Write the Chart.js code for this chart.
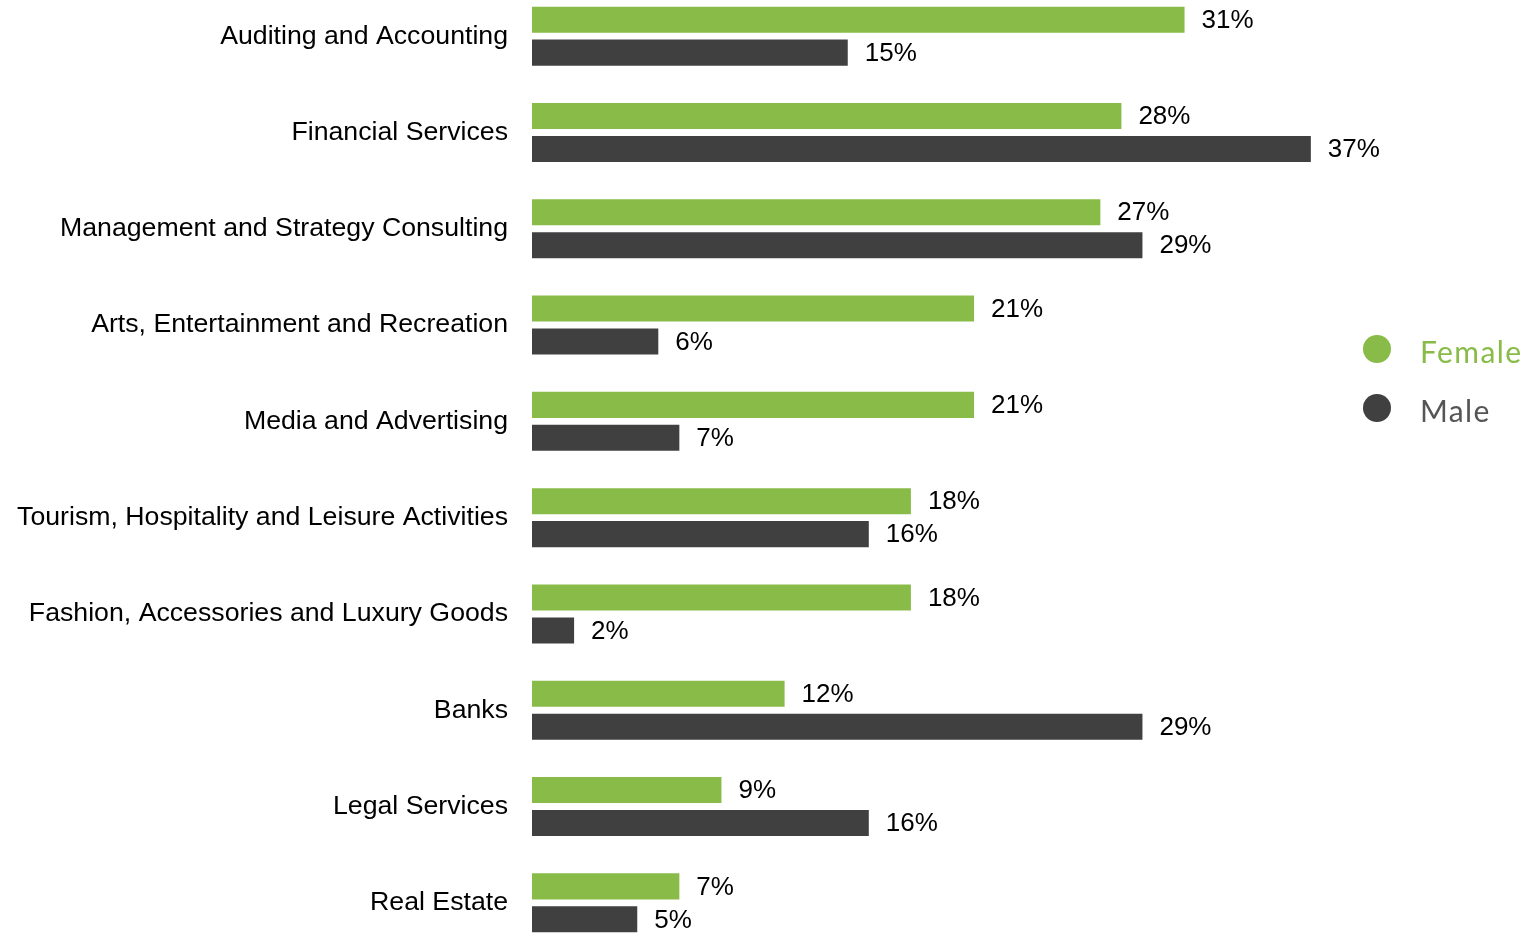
<!DOCTYPE html>
<html>
<head>
<meta charset="utf-8">
<script src="https://cdn.jsdelivr.net/npm/chart.js@4.4.1/dist/chart.umd.min.js"></script>
<style>
  html, body { margin: 0; padding: 0; background: #fff; }
  #wrap { position: relative; width: 1532px; height: 934px; overflow: hidden; }
  #box { position: absolute; left: 0; top: -12px; width: 1532px; height: 963px; }
  .legend { position: absolute; left: 1363px; font-family: Lato, 'Open Sans', sans-serif; font-size: 30px; letter-spacing: 1.4px; }
  .legend span.dot { position: absolute; left: 0; width: 28px; height: 28px; border-radius: 50%; }
  .legend span.txt { position: absolute; left: 57px; white-space: nowrap; }
</style>
</head>
<body>
<div id="wrap">
  <div id="box"><canvas id="myChart"></canvas></div>
  <div class="legend" style="top:335px">
    <span class="dot" style="background:#88bb47"></span>
    <span class="txt" style="color:#88bb47;top:-2px">Female</span>
  </div>
  <div class="legend" style="top:394px">
    <span class="dot" style="background:#404040"></span>
    <span class="txt" style="color:#555;top:-2px">Male</span>
  </div>
</div>
<script>
const categories = [
  'Auditing and Accounting',
  'Financial Services',
  'Management and Strategy Consulting',
  'Arts, Entertainment and Recreation',
  'Media and Advertising',
  'Tourism, Hospitality and Leisure Activities',
  'Fashion, Accessories and Luxury Goods',
  'Banks',
  'Legal Services',
  'Real Estate',
];
const female = [31, 28, 27, 21, 21, 18, 18, 12, 9, 7];
const male = [15, 37, 29, 6, 7, 16, 2, 29, 16, 5];

const fontFamily = '"Liberation Sans", Arial, sans-serif';

// percent labels at the end of each bar
const valueLabels = {
  id: 'valueLabels',
  afterDatasetsDraw(chart) {
    const { ctx } = chart;
    ctx.save();
    ctx.font = `26px ${fontFamily}`;
    ctx.fillStyle = '#000';
    ctx.textAlign = 'left';
    ctx.textBaseline = 'middle';
    chart.data.datasets.forEach((ds, i) => {
      const meta = chart.getDatasetMeta(i);
      meta.data.forEach((bar, j) => {
        ctx.fillText(`${ds.data[j]}%`, bar.x + 17, bar.y + 1);
      });
    });
    ctx.restore();
  },
};

const data = {
  labels: categories,
  datasets: [
    {
      label: 'Female',
      data: female,
      backgroundColor: '#88bb47',
      categoryPercentage: 0.685,
      barPercentage: 0.79,
    },
    {
      label: 'Male',
      data: male,
      backgroundColor: '#404040',
      categoryPercentage: 0.685,
      barPercentage: 0.79,
    },
  ],
};

const config = {
  type: 'bar',
  data,
  options: {
    indexAxis: 'y',
    responsive: true,
    maintainAspectRatio: false,
    animation: false,
    layout: { padding: { left: 0, right: 158, top: 0, bottom: 0 } },
    plugins: {
      legend: { display: false },
      tooltip: { enabled: false },
    },
    scales: {
      x: {
        display: false,
        min: 0,
        max: 40,
      },
      y: {
        border: { display: false },
        grid: { display: false, drawTicks: false },
        ticks: {
          padding: 24,
          color: '#000',
          font: { family: fontFamily, size: 26.7 },
        },
        afterFit(scale) {
          scale.width = 532;
          // keep the category bands spanning the full canvas height
          scale.paddingTop = 0;
          scale.paddingBottom = 0;
        },
      },
    },
  },
  plugins: [valueLabels],
};

const myChart = new Chart(document.getElementById('myChart'), config);
</script>
</body>
</html>
